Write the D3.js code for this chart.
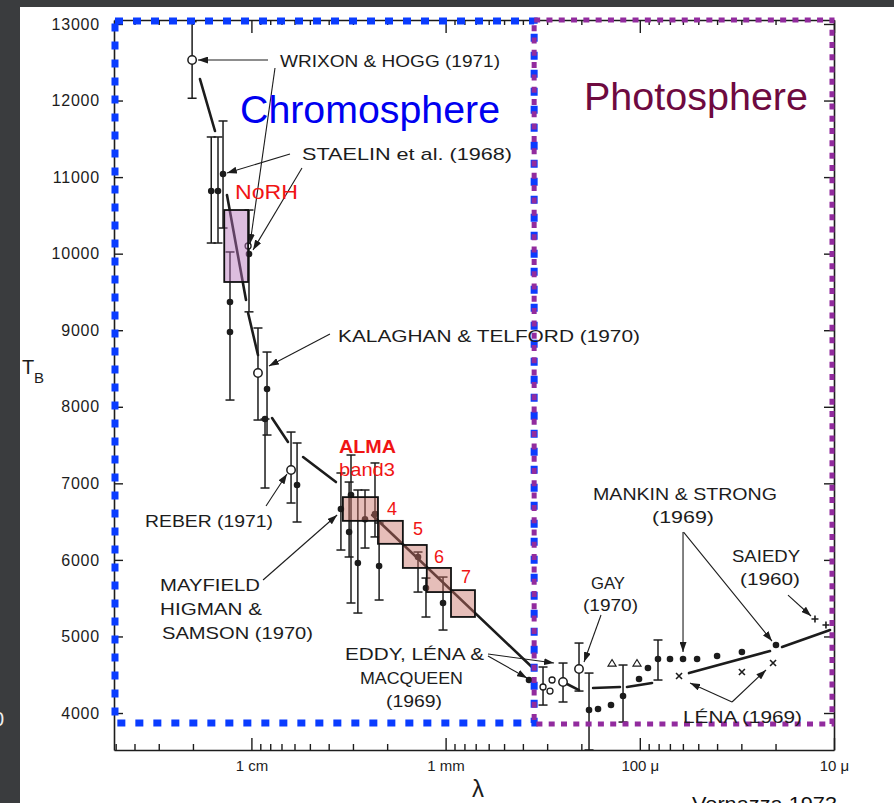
<!DOCTYPE html>
<html><head><meta charset="utf-8">
<script src="https://cdn.jsdelivr.net/npm/d3@7"></script>
<style>
body{margin:0;background:#3a3c3e;}
svg{display:block;}
text{font-family:"Liberation Sans",Arial,sans-serif;}
</style>
</head><body>
<svg id="c" width="894" height="803"></svg>
<script>
// ================= DATA =================
// wavelength (mm) on a log axis, brightness temperature T_B (K)
const xDomain = [51, 0.01];
const yDomain = [3517, 13052];
const yTicks = [4000, 5000, 6000, 7000, 8000, 9000, 10000, 11000, 12000, 13000];
const xMajorTicks = [10, 1, 0.1, 0.01];
const xTickLabels = ["1 cm", "1 mm", "100 μ", "10 μ"];

// regions [lambda left, lambda right, T bottom, T top]
const chromosphereRegion = [50.4, 0.35, 3869, 13039];
const photosphereRegion = [0.35, 0.01024, 3856, 13052];

// open circles: [lambda, T, errLow, errHigh]
const openPoints = [
  [20.2, 12529, 12030, 13030],   // Wrixon & Hogg
  [9.25, 8441, 7827, 9029],      // Kalaghan & Telford
  [6.25, 7174, 6743, 7670],      // Reber
  [0.2485, 4405, 4144, 4653],    // Eddy, Lena & Macqueen
  [0.2056, 4575, 4287, 4914]     // Gay
];
const openSmallPoints = [
  [10.4, 10100, null, null],
  [0.315, 4340, 4104, 4601],
  [0.283, 4431, null, null],
  [0.290, 4287, null, null]
];
// filled dots: [lambda, T, errLow, errHigh]
const filledPoints = [
  [16.1, 10818, 10139, 11524],
  [14.86, 10818, 10139, 11524],
  [14.0, 11040, 10335, 11733],
  [10.29, 9995, 9240, 10570],
  [12.89, 9368, 8088, 10022],
  [12.89, 8977, null, null],
  [8.31, 8232, 7631, 8715],
  [8.51, 7840, 6939, 7840],
  [5.82, 6978, 6495, 7527],
  [3.46, 6665, 6129, 7135],
  [3.07, 6848, 5437, 7370],
  [3.14, 6364, 6038, 7017],
  [2.83, 5959, 5306, 6913],
  [2.20, 5920, 5476, 6482],
  [2.60, 6530, 6155, 6913],
  [2.31, 6600, 6300, 7266],
  [1.387, 6038, 5580, 6103],
  [1.262, 5633, 5254, 5763],
  [1.031, 5437, 5084, 5776],
  [0.372, 4431, null, null],
  [0.1826, 4039, 3517, 4522],
  [0.1641, 4052, null, null],
  [0.1407, 4104, null, null],
  [0.122, 4222, 3882, 4627],
  [0.1009, 4444, null, null],
  [0.0908, 4588, null, null],
  [0.0806, 4705, 4431, 4954],
  [0.0699, 4705, null, null],
  [0.0599, 4705, null, null],
  [0.0507, 4705, null, null],
  [0.0400, 4745, null, null],
  [0.0298, 4797, null, null],
  [0.0199, 4888, null, null]
];
const trianglePoints = [[0.139, 4653], [0.1034, 4653]];
const crossPoints = [[0.0628, 4483], [0.0298, 4536], [0.0206, 4653]];   // Lena (1969)
const plusPoints = [[0.01253, 5228], [0.0110, 5149]];                  // Saiedy (1960)

// hand-drawn mean curve, broken into segments
const modelCurve = [
  [[18.4, 12281], [15.4, 11602]],
  [[13.36, 10766], [10.66, 9395]],
  [[10.4, 9225], [9.25, 8676]],
  [[7.83, 7853], [6.48, 7540]],
  [[5.42, 7344], [3.67, 7017]],
  [[2.39, 6586], [0.355, 4588]],
  [[0.237, 4379], [0.2056, 4300]],
  [[0.174, 4327], [0.1265, 4340]],
  [[0.1164, 4340], [0.0865, 4392]],
  [[0.0558, 4522], [0.02136, 4810]],
  [[0.01852, 4862], [0.01048, 5084]]
];

// NoRH box: [lambda left, lambda right, T low, T high]
const norhBox = [13.8, 10.4, 9630, 10570];
// ALMA bands
const almaBands = ["3", "4", "5", "6", "7"];
const almaLambda = [[3.38, 2.23], [2.23, 1.66], [1.66, 1.25], [1.25, 0.938], [0.938, 0.706]];
const almaT = [[6510, 6820], [6210, 6510], [5895, 6195], [5580, 5895], [5255, 5605]];

// annotation arrows: [lambda0, T0, lambda1 (tip), T1 (tip)]
const arrows = [
  [8.21, 12529, 18.84, 12529],
  [7.56, 12425, 10.17, 10126],
  [6.33, 11302, 13.36, 11053],
  [5.49, 11119, 9.81, 10048],
  [3.94, 8950, 8.12, 8533],
  [8.41, 6704, 6.56, 7122],
  [8.71, 5737, 3.62, 6586],
  [0.605, 4745, 0.381, 4457],
  [0.605, 4771, 0.2765, 4653],
  [0.1584, 5280, 0.1938, 4666],
  [0.0599, 6364, 0.0599, 4797],
  [0.0595, 6364, 0.02086, 4940],
  [0.01725, 5541, 0.01313, 5267],
  [0.0335, 4144, 0.0551, 4392],
  [0.0335, 4144, 0.0224, 4562]
];

// reference labels (text, x, baseline, width)
const refLabels = [
  ["WRIXON & HOGG (1971)", 280, 67, 220],
  ["STAELIN et al. (1968)", 302, 160, 210],
  ["KALAGHAN & TELFORD (1970)", 338, 342, 302],
  ["REBER (1971)", 145, 527, 128],
  ["MAYFIELD", 160, 591, 100],
  ["HIGMAN &", 160, 615, 102],
  ["SAMSON (1970)", 162, 639, 151],
  ["EDDY, LÉNA &", 345, 660, 139],
  ["MACQUEEN", 360, 684, 103],
  ["(1969)", 386, 707, 56],
  ["GAY", 591, 589, 34],
  ["(1970)", 583, 611, 55],
  ["MANKIN & STRONG", 593, 500, 184],
  ["(1969)", 652, 523, 62],
  ["SAIEDY", 732, 562, 68],
  ["(1960)", 740, 585, 60],
  ["LÉNA (1969)", 683, 723, 119]
];

// ================= DRAW =================
const svg = d3.select("#c");
const x = d3.scaleLog().domain(xDomain).range([114, 834]);
const y = d3.scaleLinear().domain(yDomain).range([750, 20]);
const ink = "#1c1c1c";

// page
svg.append("rect").attr("x", 20).attr("y", 7).attr("width", 874).attr("height", 796).attr("fill", "#ffffff");
svg.append("text").attr("x", 4).attr("y", 726).attr("text-anchor", "end").attr("font-size", 20).attr("fill", "#eeeeee").text("0");

const defs = svg.append("defs");
defs.append("marker").attr("id", "ah").attr("viewBox", "0 0 10 7").attr("refX", 10).attr("refY", 3.5)
  .attr("markerWidth", 10).attr("markerHeight", 7).attr("markerUnits", "userSpaceOnUse").attr("orient", "auto")
  .append("path").attr("d", "M0,0L10,3.5L0,7z").attr("fill", ink);

// axes
const allTicks = x.ticks();
const isMajor = d => xMajorTicks.some(m => Math.abs(m - d) / m < 1e-6);
const fmtX = d => { const i = xMajorTicks.findIndex(m => Math.abs(m - d) / m < 1e-6); return i >= 0 ? xTickLabels[i] : ""; };

const gB = svg.append("g").attr("transform", "translate(0,750)")
  .call(d3.axisBottom(x).tickValues(allTicks).tickSize(-6).tickSizeOuter(0).tickPadding(10).tickFormat(fmtX));
gB.selectAll(".tick line").filter(isMajor).attr("y2", -12);
const gT = svg.append("g").attr("transform", "translate(0,20)")
  .call(d3.axisTop(x).tickValues(allTicks).tickSize(-5).tickSizeOuter(0).tickFormat(""));
gT.selectAll(".tick line").filter(isMajor).attr("y2", 13);
const gL = svg.append("g").attr("transform", "translate(114,0)")
  .call(d3.axisLeft(y).tickValues(yTicks).tickSize(-9).tickSizeOuter(0).tickPadding(14).tickFormat(d3.format("d")));
const gR = svg.append("g").attr("transform", "translate(834,0)")
  .call(d3.axisRight(y).tickValues(yTicks).tickSize(-10).tickSizeOuter(0).tickFormat(""));
svg.selectAll(".domain").attr("stroke", ink).attr("stroke-width", 1.6);
svg.selectAll(".tick line").attr("stroke", ink).attr("stroke-width", 1.4);
gB.selectAll(".tick text").attr("font-size", 15).attr("fill", ink).attr("font-family", "Liberation Sans, Arial, sans-serif");
gL.selectAll(".tick text").attr("font-size", 16).attr("fill", ink).attr("letter-spacing", 0.8).attr("font-family", "Liberation Sans, Arial, sans-serif");

// axis titles
svg.append("text").attr("x", 472).attr("y", 797).attr("font-size", 24).attr("fill", ink).attr("font-family", "DejaVu Sans, sans-serif").text("λ");
svg.append("text").attr("x", 22).attr("y", 374).attr("font-size", 20).attr("fill", ink).text("T");
svg.append("text").attr("x", 34).attr("y", 383).attr("font-size", 15).attr("fill", ink).text("B");

// error bars
const errData = [...openPoints, ...openSmallPoints, ...filledPoints].filter(d => d[2] != null);
const gE = svg.append("g").attr("stroke", ink).attr("stroke-width", 1.5);
gE.selectAll("line.v").data(errData).join("line").attr("class", "v")
  .attr("x1", d => x(d[0])).attr("x2", d => x(d[0])).attr("y1", d => y(d[2])).attr("y2", d => y(d[3]));
const caps = errData.flatMap(d => [[d[0], d[2]], [d[0], d[3]]]);
gE.selectAll("line.cap").data(caps).join("line").attr("class", "cap")
  .attr("x1", d => x(d[0]) - 4.5).attr("x2", d => x(d[0]) + 4.5).attr("y1", d => y(d[1])).attr("y2", d => y(d[1]));

// curve
const line = d3.line().x(d => x(d[0])).y(d => y(d[1]));
svg.append("g").selectAll("path").data(modelCurve).join("path")
  .attr("d", line).attr("fill", "none").attr("stroke", ink).attr("stroke-width", 2.6).attr("stroke-linecap", "round");

// points
svg.append("g").selectAll("circle").data(filledPoints).join("circle")
  .attr("cx", d => x(d[0])).attr("cy", d => y(d[1])).attr("r", 3.3).attr("fill", ink);
svg.append("g").selectAll("circle").data(openPoints).join("circle")
  .attr("cx", d => x(d[0])).attr("cy", d => y(d[1])).attr("r", 4.2).attr("fill", "#fff").attr("stroke", ink).attr("stroke-width", 1.5);
svg.append("g").selectAll("circle").data(openSmallPoints).join("circle")
  .attr("cx", d => x(d[0])).attr("cy", d => y(d[1])).attr("r", 3).attr("fill", "#fff").attr("stroke", ink).attr("stroke-width", 1.3);
svg.append("g").selectAll("path").data(trianglePoints).join("path")
  .attr("transform", d => `translate(${x(d[0])},${y(d[1])})`).attr("d", "M0,-3.5L4,3L-4,3Z")
  .attr("fill", "#fff").attr("stroke", ink).attr("stroke-width", 1.2);
svg.append("g").selectAll("path").data(crossPoints).join("path")
  .attr("transform", d => `translate(${x(d[0])},${y(d[1])})`).attr("d", "M-3,-3L3,3M-3,3L3,-3")
  .attr("stroke", ink).attr("stroke-width", 1.6);
svg.append("g").selectAll("path").data(plusPoints).join("path")
  .attr("transform", d => `translate(${x(d[0])},${y(d[1])})`).attr("d", "M-3.5,0L3.5,0M0,-3.5L0,3.5")
  .attr("stroke", ink).attr("stroke-width", 1.6);

// arrows
svg.append("g").selectAll("line").data(arrows).join("line")
  .attr("x1", d => x(d[0])).attr("y1", d => y(d[1])).attr("x2", d => x(d[2])).attr("y2", d => y(d[3]))
  .attr("stroke", ink).attr("stroke-width", 1.1).attr("marker-end", "url(#ah)");

// boxes
svg.append("rect")
  .attr("x", x(norhBox[0])).attr("width", x(norhBox[1]) - x(norhBox[0]))
  .attr("y", y(norhBox[3])).attr("height", y(norhBox[2]) - y(norhBox[3]))
  .attr("fill", "rgb(180,110,185)").attr("fill-opacity", 0.45).attr("stroke", "#111").attr("stroke-width", 1.8);
svg.append("g").selectAll("rect").data(almaBands).join("rect")
  .attr("x", (d, i) => x(almaLambda[i][0])).attr("width", (d, i) => x(almaLambda[i][1]) - x(almaLambda[i][0]))
  .attr("y", (d, i) => y(almaT[i][1])).attr("height", (d, i) => y(almaT[i][0]) - y(almaT[i][1]))
  .attr("fill", "rgb(200,110,100)").attr("fill-opacity", 0.45).attr("stroke", "#111").attr("stroke-width", 1.8);

// region frames
svg.append("rect")
  .attr("x", x(chromosphereRegion[0])).attr("width", x(chromosphereRegion[1]) - x(chromosphereRegion[0]))
  .attr("y", y(chromosphereRegion[3])).attr("height", y(chromosphereRegion[2]) - y(chromosphereRegion[3]))
  .attr("fill", "none").attr("stroke", "#0a3cff").attr("stroke-width", 7).attr("stroke-dasharray", "8 10");
svg.append("rect")
  .attr("x", x(photosphereRegion[0])).attr("width", x(photosphereRegion[1]) - x(photosphereRegion[0]))
  .attr("y", y(photosphereRegion[3])).attr("height", y(photosphereRegion[2]) - y(photosphereRegion[3]))
  .attr("fill", "none").attr("stroke", "#922b9e").attr("stroke-width", 5).attr("stroke-dasharray", "6 6.3");

// reference labels
svg.append("g").selectAll("text").data(refLabels).join("text")
  .attr("x", d => d[1]).attr("y", d => d[2]).attr("textLength", d => d[3]).attr("lengthAdjust", "spacingAndGlyphs")
  .attr("font-size", 17).attr("fill", ink).text(d => d[0]);

// region titles and red labels
svg.append("text").attr("x", 240).attr("y", 123).attr("font-size", 38).attr("fill", "#0000f0")
  .attr("textLength", 260).attr("lengthAdjust", "spacingAndGlyphs").text("Chromosphere");
svg.append("text").attr("x", 584).attr("y", 110).attr("font-size", 38).attr("fill", "#6e0a40")
  .attr("textLength", 224).attr("lengthAdjust", "spacingAndGlyphs").text("Photosphere");
const red = "#f01414";
svg.append("text").attr("x", 235).attr("y", 199).attr("font-size", 21).attr("fill", red)
  .attr("textLength", 63).attr("lengthAdjust", "spacingAndGlyphs").text("NoRH");
svg.append("text").attr("x", 339).attr("y", 453).attr("font-size", 19).attr("font-weight", "bold").attr("fill", red)
  .attr("textLength", 57).attr("lengthAdjust", "spacingAndGlyphs").text("ALMA");
svg.append("text").attr("x", 339).attr("y", 476).attr("font-size", 19).attr("fill", red)
  .attr("textLength", 56).attr("lengthAdjust", "spacingAndGlyphs").text("band" + almaBands[0]);
const bandLabelPos = [[387, 515], [413, 535], [434, 563], [461, 583]];
svg.append("g").selectAll("text").data(almaBands.slice(1)).join("text")
  .attr("x", (d, i) => bandLabelPos[i][0]).attr("y", (d, i) => bandLabelPos[i][1])
  .attr("font-size", 18).attr("fill", red).text(d => d);

// source
svg.append("text").attr("x", 692).attr("y", 811).attr("font-size", 21).attr("fill", "#111")
  .attr("textLength", 145).attr("lengthAdjust", "spacingAndGlyphs").text("Vernazza 1973");
</script>
</body></html>
